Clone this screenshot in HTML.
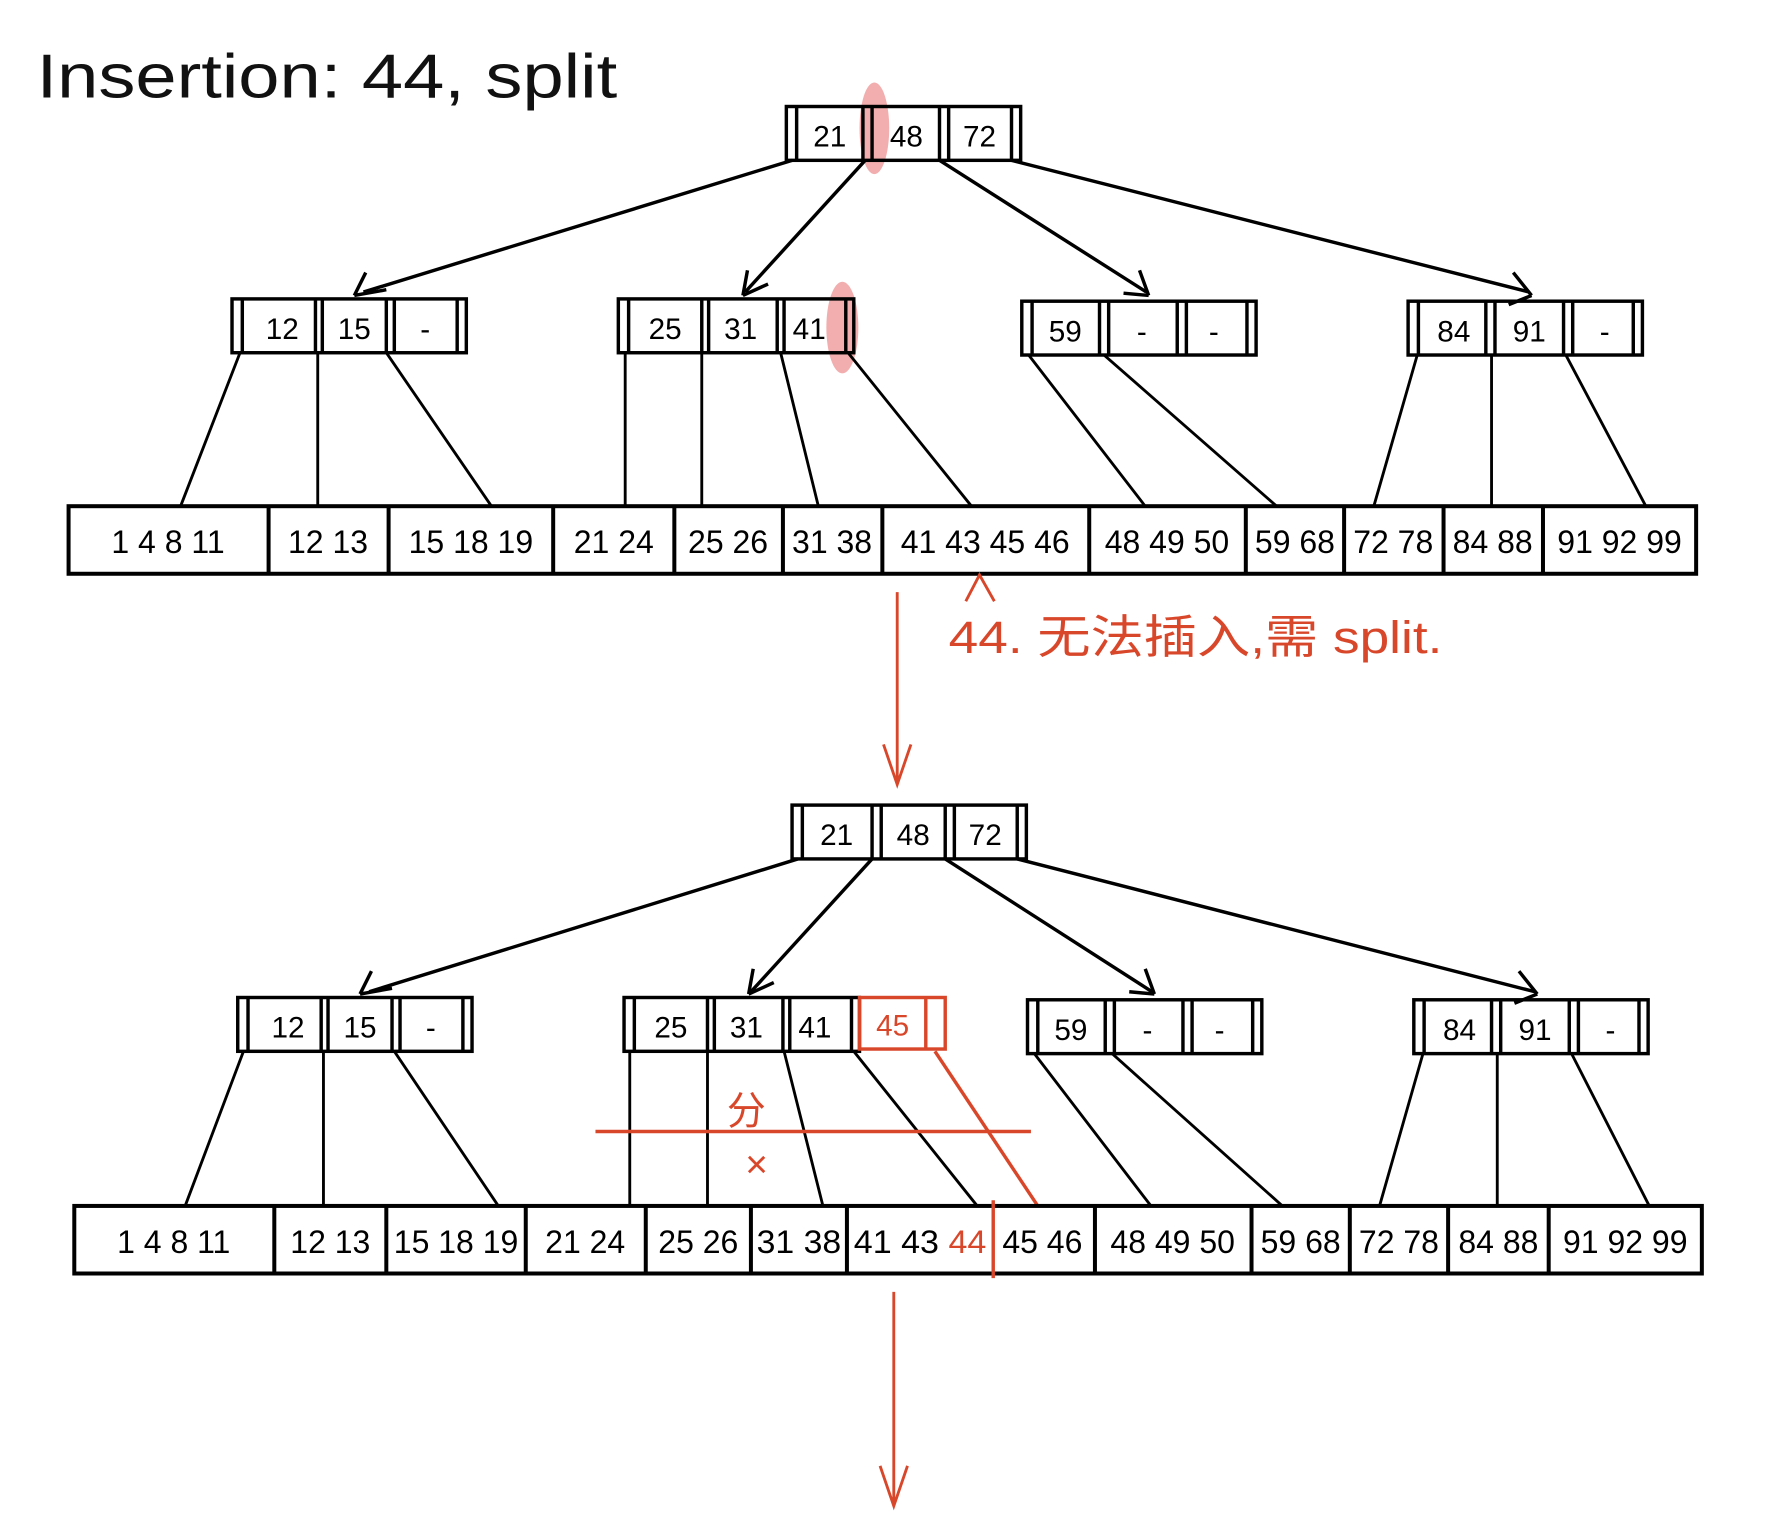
<!DOCTYPE html>
<html><head><meta charset="utf-8"><style>
html,body{margin:0;padding:0;background:#fff;}
svg{display:block}
text{font-family:"Liberation Sans","Noto Sans CJK SC",sans-serif;}
</style></head><body>
<svg width="1791" height="1514" viewBox="0 0 1567 1322" preserveAspectRatio="none" xmlns="http://www.w3.org/2000/svg">
<rect width="1567" height="1322" fill="#fff"/>
<text x="32" y="85" font-size="54" fill="#111" textLength="508" lengthAdjust="spacingAndGlyphs">Insertion: 44, split</text>

<!-- TOP TREE -->
<ellipse cx="765" cy="112" rx="13" ry="40" fill="#ef9a9a" opacity="0.8"/>
<g stroke="#000" stroke-width="3" fill="none">
<rect x="688" y="93" width="205" height="47"/>
<path d="M697 93V140M755 93V140M763 93V140M822 93V140M830 93V140M885 93V140"/>
</g>
<g font-size="26" text-anchor="middle" fill="#000">
<text x="726" y="128">21</text><text x="793" y="128">48</text><text x="857" y="128">72</text>
</g>
<g stroke="#000" stroke-width="3" fill="none">
<path d="M693 140L318 255"/><path d="M310 258l10-20M310 258l28 -5"/>
<path d="M757 140L652 255"/><path d="M650 258l4-22M650 258l22-10"/>
<path d="M822 140L1003 255"/><path d="M1005 258l-22-2M1005 258l-8-22"/>
<path d="M885 140L1338 255"/><path d="M1340 258l-20 8M1340 258l-16-20"/>
</g>
<ellipse cx="737" cy="286" rx="14" ry="40" fill="#ef9a9a" opacity="0.8"/>
<g stroke="#000" stroke-width="3" fill="none">
<rect x="203" y="261" width="205" height="47"/><path d="M212 261V308M276 261V308M282 261V308M338 261V308M345 261V308M400 261V308"/>
<rect x="541" y="261" width="206" height="47"/><path d="M550 261V308M614 261V308M620 261V308M680 261V308M686 261V308M740 261V308"/>
<rect x="894" y="263" width="205" height="47"/><path d="M903 263V310M962 263V310M970 263V310M1030 263V310M1038 263V310M1091 263V310"/>
<rect x="1232" y="263" width="205" height="47"/><path d="M1241 263V310M1300 263V310M1308 263V310M1368 263V310M1376 263V310M1429 263V310"/>
</g>
<g font-size="26" text-anchor="middle" fill="#000">
<text x="247" y="296">12</text><text x="310" y="296">15</text><text x="372" y="296">-</text>
<text x="582" y="296">25</text><text x="648" y="296">31</text><text x="708" y="296">41</text>
<text x="932" y="298">59</text><text x="999" y="298">-</text><text x="1062" y="298">-</text>
<text x="1272" y="298">84</text><text x="1338" y="298">91</text><text x="1404" y="298">-</text>
</g>
<g stroke="#000" stroke-width="2.5">
<path d="M210 308L158 442M278 308V442M338 308L430 442"/>
<path d="M547 308V442M614 308V442M683 308L716 442M742 308L850 442"/>
<path d="M900 310L1002 442M966 310L1117 442"/>
<path d="M1240 310L1202 442M1305 310V442M1370 310L1440 442"/>
</g>
<g stroke="#000" stroke-width="3.5" fill="none">
<rect x="60" y="442" width="1424" height="59"/>
<path d="M235 442V501M340 442V501M484 442V501M590 442V501M685 442V501M772 442V501M953 442V501M1090 442V501M1176 442V501M1263 442V501M1350 442V501"/>
</g>
<g font-size="28" text-anchor="middle" fill="#000">
<text x="147" y="483">1 4 8 11</text><text x="287" y="483">12 13</text><text x="412" y="483">15 18 19</text>
<text x="537" y="483">21 24</text><text x="637" y="483">25 26</text><text x="728" y="483">31 38</text>
<text x="862" y="483">41 43 45 46</text><text x="1021" y="483">48 49 50</text><text x="1133" y="483">59 68</text>
<text x="1219" y="483">72 78</text><text x="1306" y="483">84 88</text><text x="1417" y="483">91 92 99</text>
</g>
<g stroke="#d9472b" stroke-width="2.5" fill="none">
<path d="M845 525L857 502L870 525"/>
<path d="M785 517V685M773 650L785 685L797 650"/>
</g>
<text x="830" y="570" font-size="40" fill="#d9472b" textLength="432" lengthAdjust="spacingAndGlyphs">44. 无法插入,需 split.</text>

<!-- BOTTOM TREE -->
<g stroke="#000" stroke-width="3" fill="none">
<rect x="693" y="703" width="205" height="47"/>
<path d="M702 703V750M763 703V750M771 703V750M827 703V750M835 703V750M890 703V750"/>
</g>
<g font-size="26" text-anchor="middle" fill="#000">
<text x="732" y="738">21</text><text x="799" y="738">48</text><text x="862" y="738">72</text>
</g>
<g stroke="#000" stroke-width="3" fill="none">
<path d="M698 750L323 866"/><path d="M315 868l10-20M315 868l28-5"/>
<path d="M763 750L657 866"/><path d="M655 868l4-22M655 868l22-10"/>
<path d="M827 750L1008 866"/><path d="M1010 868l-22-2M1010 868l-8-22"/>
<path d="M890 750L1343 866"/><path d="M1345 868l-20 8M1345 868l-16-20"/>
</g>
<g stroke="#000" stroke-width="3" fill="none">
<rect x="208" y="871" width="205" height="47"/><path d="M217 871V918M281 871V918M287 871V918M343 871V918M350 871V918M405 871V918"/>
<rect x="546" y="871" width="206" height="47"/><path d="M555 871V918M619 871V918M625 871V918M685 871V918M691 871V918M745 871V918"/>
<rect x="899" y="873" width="205" height="47"/><path d="M908 873V920M967 873V920M975 873V920M1035 873V920M1043 873V920M1096 873V920"/>
<rect x="1237" y="873" width="205" height="47"/><path d="M1246 873V920M1305 873V920M1313 873V920M1373 873V920M1381 873V920M1434 873V920"/>
</g>
<g stroke="#d9472b" stroke-width="3" fill="none">
<rect x="752" y="871" width="75" height="45"/><path d="M810 871V916"/>
</g>
<g font-size="26" text-anchor="middle" fill="#000">
<text x="252" y="906">12</text><text x="315" y="906">15</text><text x="377" y="906">-</text>
<text x="587" y="906">25</text><text x="653" y="906">31</text><text x="713" y="906">41</text>
<text x="781" y="904" fill="#d9472b">45</text>
<text x="937" y="908">59</text><text x="1004" y="908">-</text><text x="1067" y="908">-</text>
<text x="1277" y="908">84</text><text x="1343" y="908">91</text><text x="1409" y="908">-</text>
</g>
<g stroke="#000" stroke-width="2.5">
<path d="M213 918L162 1053M283 918V1053M345 918L436 1053"/>
<path d="M551 918V1053M619 918V1053M686 918L720 1053M747 918L855 1053"/>
<path d="M905 920L1007 1053M973 920L1122 1053"/>
<path d="M1245 920L1207 1053M1310 920V1053M1375 920L1443 1053"/>
</g>
<g stroke="#d9472b" stroke-width="3" fill="none">
<path d="M818 918L908 1053"/>
<path d="M521 988H902"/>
</g>
<text x="636" y="982" font-size="34" fill="#d9472b">分</text>
<text x="652" y="1028" font-size="34" fill="#d9472b">×</text>
<g stroke="#000" stroke-width="3.5" fill="none">
<rect x="65" y="1053" width="1424" height="59"/>
<path d="M240 1053V1112M338 1053V1112M460 1053V1112M565 1053V1112M657 1053V1112M741 1053V1112M958 1053V1112M1095 1053V1112M1181 1053V1112M1267 1053V1112M1355 1053V1112"/>
</g>
<path d="M869 1048V1116" stroke="#d9472b" stroke-width="3"/>
<g font-size="28" text-anchor="middle" fill="#000">
<text x="152" y="1094">1 4 8 11</text><text x="289" y="1094">12 13</text><text x="399" y="1094">15 18 19</text>
<text x="512" y="1094">21 24</text><text x="611" y="1094">25 26</text><text x="699" y="1094" textLength="74" lengthAdjust="spacingAndGlyphs">31 38</text>
<text x="805" y="1094" textLength="116" lengthAdjust="spacingAndGlyphs">41 43 <tspan fill="#d9472b">44</tspan></text><text x="912" y="1094">45 46</text>
<text x="1026" y="1094">48 49 50</text><text x="1138" y="1094">59 68</text>
<text x="1224" y="1094">72 78</text><text x="1311" y="1094">84 88</text><text x="1422" y="1094">91 92 99</text>
</g>
<g stroke="#d9472b" stroke-width="2.5" fill="none">
<path d="M782 1128V1315M770 1280L782 1315L794 1280"/>
</g>
</svg>
</body></html>
